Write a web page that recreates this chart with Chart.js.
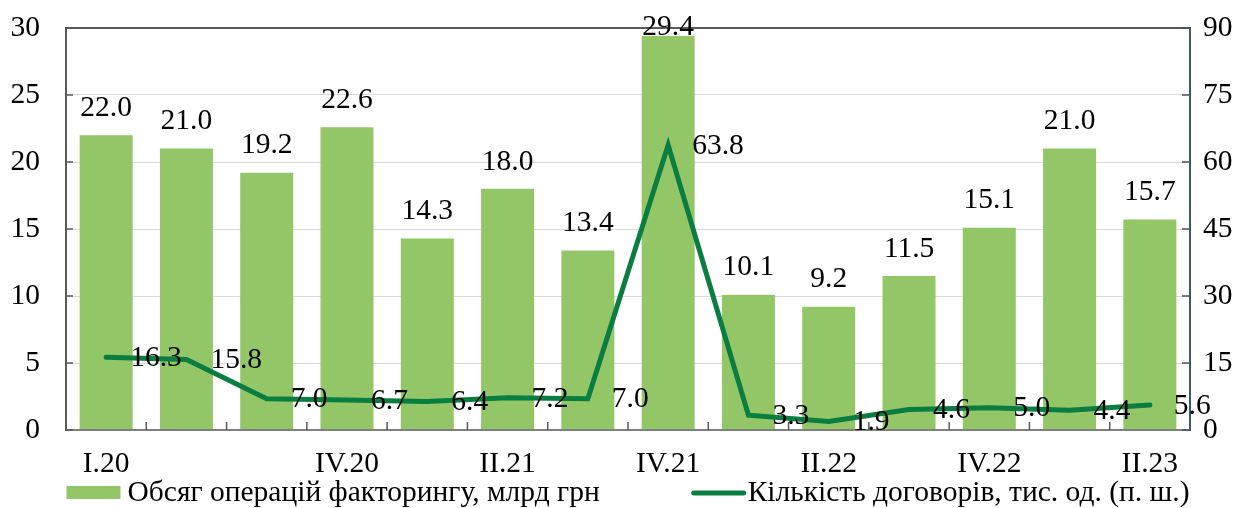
<!DOCTYPE html>
<html>
<head>
<meta charset="utf-8">
<script src="https://cdn.jsdelivr.net/npm/chart.js@4/dist/chart.umd.min.js"></script>
<style>
html,body{margin:0;padding:0;background:#fff;}
#wrap{width:1248px;height:508px;}
canvas{display:block;}
</style>
</head>
<body>
<div id="wrap"><canvas id="c" width="1248" height="508" style="width:1248px;height:508px"></canvas></div>
<script>
// ---- data ----
const categories = ['I.20','II.20','III.20','IV.20','I.21','II.21','III.21','IV.21','I.22','II.22','III.22','IV.22','I.23','II.23'];
const tickLabels = ['I.20','','','IV.20','','II.21','','IV.21','','II.22','','IV.22','','II.23'];
const volume = [22.0,21.0,19.2,22.6,14.3,18.0,13.4,29.4,10.1,9.2,11.5,15.1,21.0,15.7];
const contracts = [16.3,15.8,7.0,6.7,6.4,7.2,7.0,63.8,3.3,1.9,4.6,5.0,4.4,5.6];
const volumeLabel = 'Обсяг операцій факторингу, млрд грн';
const contractsLabel = 'Кількість договорів, тис. од. (п. ш.)';

const FONT = '"Liberation Serif", "Times New Roman", serif';
const FS = 29.5;
const BAR_COLOR = '#93c666';
const LINE_COLOR = '#0a7d41';

Chart.defaults.font.family = FONT;
Chart.defaults.font.size = FS;
Chart.defaults.color = '#000';

const deco = {
  id: 'deco',
  afterDatasetsDraw(chart) {
    const {ctx, chartArea: ca, scales} = chart;
    const xs = scales.x, ys = scales.y, ys1 = scales.y1;
    const seg = (x1, y1, x2, y2) => { ctx.beginPath(); ctx.moveTo(x1, y1); ctx.lineTo(x2, y2); ctx.stroke(); };
    ctx.save();
    ctx.lineCap = 'butt';
    // plot borders
    ctx.lineWidth = 2;
    ctx.strokeStyle = '#595959';
    seg(ca.left - 1, ca.top, ca.right, ca.top);
    seg(ca.left, ca.top, ca.left, ca.bottom + 1);
    ctx.strokeStyle = '#7f7f7f';
    seg(ca.left, ca.bottom, ca.right + 1, ca.bottom);
    ctx.strokeStyle = '#44546a';
    seg(ca.right, ca.top - 1, ca.right, ca.bottom + 1);
    // inside tick marks
    ctx.lineWidth = 1.5;
    ctx.strokeStyle = '#595959';
    ys.ticks.forEach(t => { const p = ys.getPixelForValue(t.value); seg(ca.left, p, ca.left + 7, p); });
    ctx.strokeStyle = '#44546a';
    ys1.ticks.forEach(t => { const p = ys1.getPixelForValue(t.value); seg(ca.right - 8, p, ca.right, p); });
    ctx.strokeStyle = '#595959';
    for (let i = 1; i < categories.length; i++) {
      const px = (xs.getPixelForValue(i - 1) + xs.getPixelForValue(i)) / 2;
      seg(px, ca.bottom, px, ca.bottom - 8);
    }
    // data labels
    ctx.font = FS + 'px ' + FONT;
    ctx.fillStyle = '#000';
    ctx.textBaseline = 'middle';
    const barMeta = chart.getDatasetMeta(1);
    ctx.textAlign = 'center';
    barMeta.data.forEach((el, i) => {
      const yy = Math.max(el.y - 27, 27);
      ctx.fillText(volume[i].toFixed(1), el.x, yy);
    });
    const lineMeta = chart.getDatasetMeta(0);
    ctx.textAlign = 'left';
    lineMeta.data.forEach((el, i) => {
      ctx.fillText(contracts[i].toFixed(1), el.x + 24, el.y + 1);
    });
    ctx.restore();
  },
  afterDraw(chart) {
    const {ctx, chartArea: ca} = chart;
    ctx.save();
    ctx.font = FS + 'px ' + FONT;
    ctx.textBaseline = 'middle';
    ctx.textAlign = 'left';
    ctx.fillStyle = '#000';
    const w1 = ctx.measureText(volumeLabel).width;
    const w2 = ctx.measureText(contractsLabel).width;
    const boxW = 54, gap1 = 7, mid = 92, lineW = 52, gap2 = 4;
    const total = boxW + gap1 + w1 + mid + lineW + gap2 + w2;
    const cx = (ca.left + ca.right) / 2;
    const cy = ca.bottom + 63;
    let x = cx - total / 2;
    ctx.fillStyle = BAR_COLOR;
    ctx.fillRect(x, cy - 7, boxW, 13);
    x += boxW + gap1;
    ctx.fillStyle = '#000';
    ctx.fillText(volumeLabel, x, cy);
    x += w1 + mid;
    ctx.strokeStyle = LINE_COLOR;
    ctx.lineWidth = 5;
    ctx.lineCap = 'round';
    ctx.beginPath(); ctx.moveTo(x + 2, cy); ctx.lineTo(x + lineW, cy); ctx.stroke();
    x += lineW + gap2;
    ctx.fillText(contractsLabel, x, cy);
    ctx.restore();
  }
};

const fixY = w => s => { s.width = w; s.paddingTop = 0; s.paddingBottom = 0; };

new Chart(document.getElementById('c'), {
  data: {
    labels: categories,
    datasets: [
      {
        type: 'line',
        label: contractsLabel,
        data: contracts,
        yAxisID: 'y1',
        borderColor: LINE_COLOR,
        backgroundColor: LINE_COLOR,
        borderWidth: 5,
        pointRadius: 0,
        pointHoverRadius: 0,
        tension: 0,
        borderCapStyle: 'round',
        borderJoinStyle: 'miter',
        order: 0
      },
      {
        type: 'bar',
        label: volumeLabel,
        data: volume,
        yAxisID: 'y',
        backgroundColor: BAR_COLOR,
        borderWidth: 0,
        barPercentage: 0.66,
        categoryPercentage: 1.0,
        order: 1
      }
    ]
  },
  options: {
    responsive: false,
    animation: false,
    devicePixelRatio: 1,
    layout: { padding: { top: 28, left: 0, right: 0, bottom: 0 } },
    plugins: { legend: { display: false }, tooltip: { enabled: false } },
    scales: {
      x: {
        type: 'category',
        offset: true,
        grid: { display: false, drawTicks: false },
        border: { display: false },
        ticks: {
          autoSkip: false, maxRotation: 0, minRotation: 0, padding: 17,
          font: { size: FS, family: FONT }, color: '#000',
          callback: (v, i) => tickLabels[i]
        },
        afterFit: s => { s.height = 78; s.paddingLeft = 0; s.paddingRight = 0; }
      },
      y: {
        position: 'left',
        min: 0, max: 30,
        grid: { color: '#d9d9d9', lineWidth: 1, drawTicks: false },
        border: { display: false },
        ticks: { stepSize: 5, padding: 26, font: { size: FS, family: FONT }, color: '#000' },
        afterFit: fixY(66)
      },
      y1: {
        position: 'right',
        min: 0, max: 90,
        grid: { display: false, drawTicks: false },
        border: { display: false },
        ticks: { stepSize: 15, padding: 13, font: { size: FS, family: FONT }, color: '#000' },
        afterFit: fixY(58)
      }
    }
  },
  plugins: [deco]
});
</script>
</body>
</html>
